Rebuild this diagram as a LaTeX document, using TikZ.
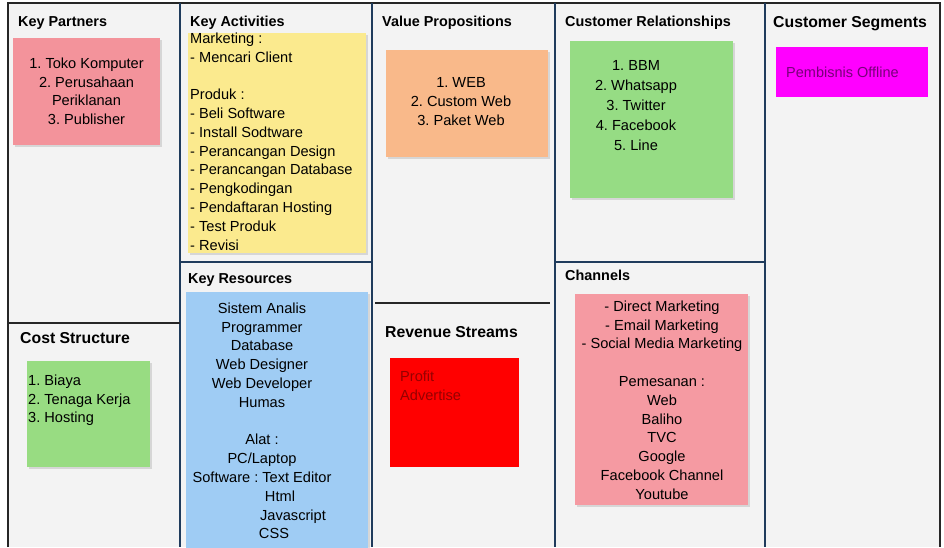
\documentclass[tikz,border=0pt]{standalone}
\usepackage{fontspec}
\setmainfont{Liberation Sans}
\frenchspacing
\usetikzlibrary{shadows}
\definecolor{bg}{HTML}{F3F3F3}
\definecolor{navy}{HTML}{1F3B5C}
\definecolor{kpPink}{HTML}{F3939B}
\definecolor{kaYellow}{HTML}{FBEA8E}
\definecolor{krBlue}{HTML}{9FCCF4}
\definecolor{csGreen}{HTML}{98DC82}
\definecolor{vpOrange}{HTML}{F9B98A}
\definecolor{crGreen}{HTML}{96DC84}
\definecolor{chPink}{HTML}{F59AA2}
\definecolor{rsRed}{HTML}{FF0000}
\definecolor{rsText}{HTML}{960000}
\definecolor{segMag}{HTML}{FF00FF}
\definecolor{segText}{HTML}{78007A}
\begin{document}
\begin{tikzpicture}[x=1pt,y=-1pt,
  frame/.style={draw=black!85,line width=1.4pt},
  navyline/.style={draw=navy,line width=2.6pt},
  thinline/.style={draw=black!85,line width=1.2pt},
  note/.style={inner sep=0pt,draw=none,drop shadow={opacity=0.25,shadow xshift=1.5pt,shadow yshift=-2pt}},
  flatnote/.style={inner sep=0pt,draw=none},
  title/.style={font=\bfseries\fontsize{14.4}{17}\selectfont,inner sep=0pt,anchor=base west},
  bigtitle/.style={font=\bfseries\fontsize{15.8}{19}\selectfont,inner sep=0pt,anchor=base west},
  body/.style={font=\fontsize{14.6}{18.8}\selectfont,inner sep=0pt,anchor=north,align=center},
  bodyl/.style={font=\fontsize{14.6}{18.8}\selectfont,inner sep=0pt,anchor=north west,align=left}
]
\useasboundingbox (0,0) rectangle (944,547);
\fill[white] (0,0) rectangle (944,547);
\fill[bg] (8,3) rectangle (940,547);

% sticky notes
\node[note,fill=kpPink,minimum width=147pt,minimum height=107pt] (kpnote) at (86.5,91.5) {};
\node[note,fill=kaYellow,minimum width=178pt,minimum height=220pt] (kanote) at (277,143) {};
\node[note,fill=krBlue,minimum width=182pt,minimum height=258pt] (krnote) at (277,421) {};
\node[note,fill=csGreen,minimum width=123pt,minimum height=106pt] (csnote) at (88.5,414) {};
\node[note,fill=vpOrange,minimum width=162pt,minimum height=107pt] (vpnote) at (467,103.5) {};
\node[note,fill=crGreen,minimum width=163pt,minimum height=157pt] (crnote) at (651.5,119.5) {};
\node[note,fill=chPink,minimum width=173pt,minimum height=211pt] (chnote) at (661.5,399.5) {};
\node[flatnote,fill=rsRed,minimum width=129pt,minimum height=109pt] (rsnote) at (454.5,412.5) {};
\node[flatnote,fill=segMag,minimum width=152pt,minimum height=50pt] (segnote) at (852,72) {};

% grid lines
\draw[frame] (8,547) -- (8,3) -- (940,3) -- (940,547);
\draw[navyline] (180,3) -- (180,547);
\draw[navyline] (372,3) -- (372,547);
\draw[navyline] (555,3) -- (555,547);
\draw[navyline] (765,3) -- (765,547);
\draw[navyline] (180,262) -- (372,262);
\draw[navyline] (555,262) -- (765,262);
\draw[thinline] (8,323) -- (180,323);
\draw[thinline] (375,303) -- (550,303);

% titles
\node[title] (tkp) at (18,26) {Key Partners};
\node[title] (tka) at (190,26) {Key Activities};
\node[title] (tvp) at (382,26) {Value Propositions};
\node[title] (tcr) at (565,26) {Customer Relationships};
\node[bigtitle] (tcs) at (773,27) {Customer Segments};
\node[title] (tkr) at (188,283.5) {Key Resources};
\node[bigtitle] (tcost) at (20,343) {Cost Structure};
\node[bigtitle] (trs) at (385,337) {Revenue Streams};
\node[title] (tch) at (565,280.5) {Channels};

% texts
\node[body] (kptext) at (86.5,57.6) {1. Toko Komputer\\2. Perusahaan\\Periklanan\\3. Publisher};
\node[bodyl] (katext) at (190,32.6) {Marketing :\\- Mencari Client\\[18.8pt]Produk :\\- Beli Software\\- Install Sodtware\\- Perancangan Design\\- Perancangan Database\\- Pengkodingan\\- Pendaftaran Hosting\\- Test Produk\\- Revisi};
\node[body] (krtext) at (262,302.6) {Sistem Analis\\Programmer\\Database\\Web Designer\\Web Developer\\Humas\\[18.8pt]Alat :\\PC/Laptop\\Software : Text Editor\\\hspace*{36pt}Html\\\hspace*{62pt}Javascript\\\hspace*{24pt}CSS};
\node[bodyl] (cstext) at (28,374.6) {1. Biaya\\2. Tenaga Kerja\\3. Hosting};
\node[body,font=\fontsize{14.6}{18.6}\selectfont] (vptext) at (461,77.6) {1. WEB\\2. Custom Web\\3. Paket Web};
\node[body,font=\fontsize{14.6}{20}\selectfont] (crtext) at (636,60.6) {1. BBM\\2. Whatsapp\\3. Twitter\\4. Facebook\\5. Line};
\node[body] (chtext) at (662,300.6) {- Direct Marketing\\- Email Marketing\\- Social Media Marketing\\[18.8pt]Pemesanan :\\Web\\Baliho\\TVC\\Google\\Facebook Channel\\Youtube};
\node[bodyl,text=rsText] (rstext) at (400,370.6) {Profit\\Advertise};
\node[font=\fontsize{14.5}{18}\selectfont,inner sep=0pt,anchor=west,text=segText] (segtext) at (786,72) {Pembisnis Offline};
\end{tikzpicture}
\end{document}
